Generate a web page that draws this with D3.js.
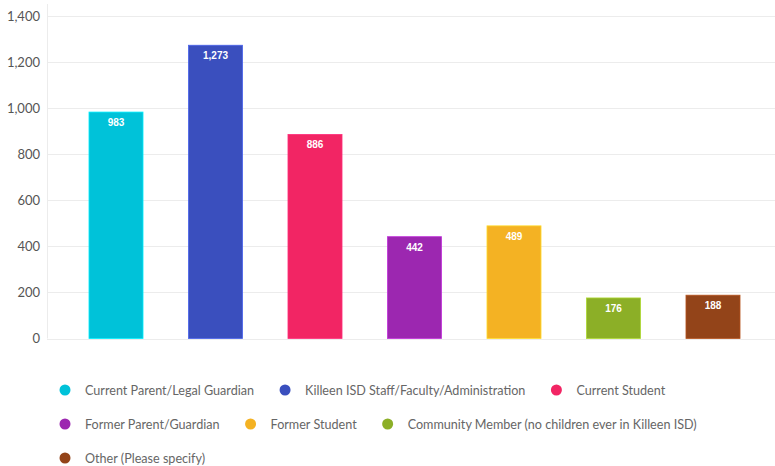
<!DOCTYPE html>
<html>
<head>
<meta charset="utf-8">
<script src="https://cdn.jsdelivr.net/npm/d3@7"></script>
<style>
  body { margin: 0; background: #fff; }
  svg { display: block; font-family: Lato, "Open Sans", sans-serif; }
</style>
</head>
<body>
<div id="chart"></div>
<script>
const categories = [
    "Current Parent/Legal Guardian",
    "Killeen ISD Staff/Faculty/Administration",
    "Current Student",
    "Former Parent/Guardian",
    "Former Student",
    "Community Member (no children ever in Killeen ISD)",
    "Other (Please specify)"
]
const values = [983, 1273, 886, 442, 489, 176, 188]
const colours = ["#00c2d9", "#3a4fbe", "#f22564", "#9c27b0", "#f4b223", "#8caf27", "#934419"]
const yTicks = [0, 200, 400, 600, 800, 1000, 1200, 1400]

const width = 775, height = 466
const format = d3.format(",")

const svg = d3.select("#chart").append("svg")
    .attr("width", width)
    .attr("height", height)

const plotLeft = 47, plotRight = 775, plotTop = 16, plotBottom = 338.5

const x = d3.scaleBand()
    .domain(categories)
    .range([66.25, 762.75])
    .paddingInner(0.457)
    .paddingOuter(0.2285)

const y = d3.scaleLinear()
    .domain([0, 1400])
    .range([plotBottom, plotTop])

// grid lines
svg.append("g")
    .selectAll()
    .data(yTicks)
    .join("line")
    .attr("x1", plotLeft)
    .attr("x2", plotRight)
    .attr("y1", d => Math.round(y(d)) + 0.5)
    .attr("y2", d => Math.round(y(d)) + 0.5)
    .attr("stroke", "#ececec")

svg.append("line")
    .attr("x1", plotLeft + 0.5)
    .attr("x2", plotLeft + 0.5)
    .attr("y1", 4)
    .attr("y2", plotBottom)
    .attr("stroke", "#ececec")

// y tick labels
svg.append("g")
    .selectAll()
    .data(yTicks)
    .join("text")
    .attr("x", 40)
    .attr("y", d => y(d))
    .attr("dy", "0.35em")
    .attr("text-anchor", "end")
    .attr("font-size", 13)
    .attr("fill", "#555")
    .text(d => format(d))

// bars
svg.append("g")
    .selectAll()
    .data(values)
    .join("rect")
    .attr("x", (d, i) => x(categories[i]))
    .attr("y", d => y(d))
    .attr("width", x.bandwidth())
    .attr("height", d => y(0) - y(d))
    .attr("fill", (d, i) => colours[i])
    .attr("stroke", (d, i) => d3.color(colours[i]).brighter(0.6))
    .attr("stroke-width", 0.8)

// value labels
svg.append("g")
    .selectAll()
    .data(values)
    .join("text")
    .attr("x", (d, i) => x(categories[i]) + x.bandwidth() / 2)
    .attr("y", d => y(d) + 10.5)
    .attr("dy", "0.35em")
    .attr("text-anchor", "middle")
    .attr("font-family", "'Liberation Sans', Arial, sans-serif")
    .attr("font-size", 10)
    .attr("font-weight", 600)
    .attr("fill", "#fff")
    .text(d => format(d))

// legend, flowing left to right and wrapping
const legend = svg.append("g")
let lx = 65, ly = 391
categories.forEach((c, i) => {
    const item = legend.append("g")
    const label = item.append("text")
        .attr("x", 20)
        .attr("dy", "0.35em")
        .attr("font-size", 12.6)
        .attr("fill", "#666")
        .text(c)
    const w = label.node().getComputedTextLength()
    if (lx + 20 + w > width - 5 && lx > 65) {
        lx = 65
        ly += 34
    }
    item.attr("transform", `translate(${lx},${ly})`)
    item.append("circle")
        .attr("r", 5.5)
        .attr("cy", -1)
        .attr("fill", colours[i])
    lx += 20 + w + 31
})
</script>
</body>
</html>
